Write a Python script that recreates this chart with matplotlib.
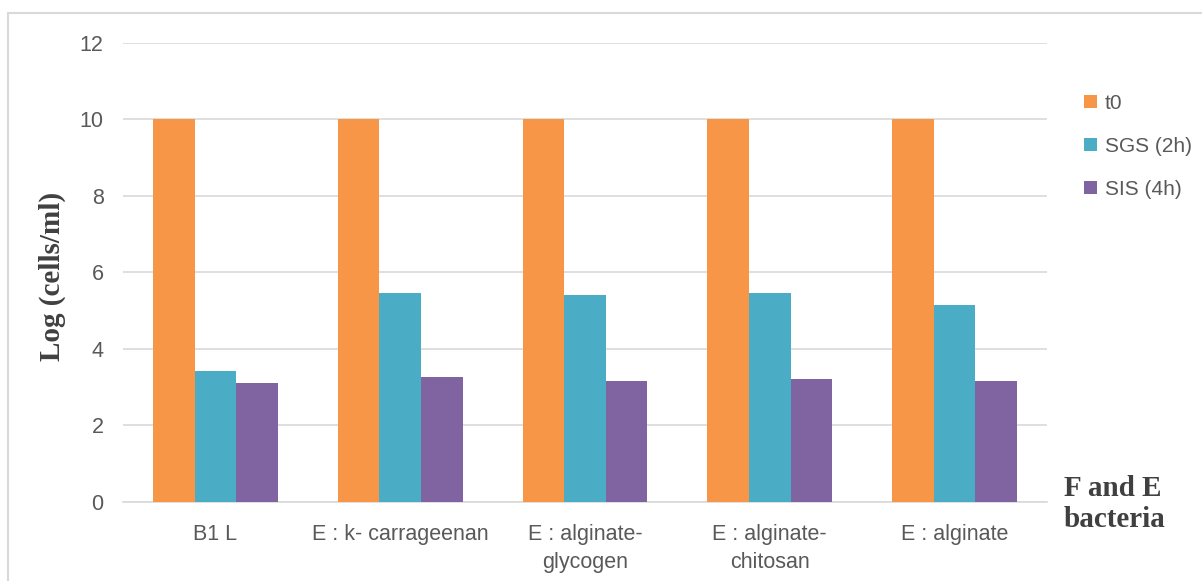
import numpy as np
import matplotlib.pyplot as plt
from matplotlib.patches import Rectangle

categories = ['B1 L', 'E : k- carrageenan', 'E : alginate-\nglycogen',
              'E : alginate-\nchitosan', 'E : alginate']
t0 = [10, 10, 10, 10, 10]
sgs = [3.42, 5.46, 5.41, 5.46, 5.15]
sis = [3.11, 3.27, 3.16, 3.22, 3.16]
series_names = ['t0', 'SGS (2h)', 'SIS (4h)']
colors = ['#F79646', '#4BACC6', '#8064A2']

fig = plt.figure(figsize=(12.02, 5.81), dpi=100)
ax = fig.add_axes([0.1023, 0.136, 0.7687, 0.79])

x = np.arange(len(categories))
w = 0.225
for i, (vals, name, c) in enumerate(zip([t0, sgs, sis], series_names, colors)):
    ax.bar(x + (i - 1) * w, vals, w, color=c, label=name, zorder=3)

ax.set_ylim(0, 12)
ax.set_xlim(-0.5, len(categories) - 0.5)
ax.set_yticks(range(0, 13, 2))
ax.yaxis.grid(True, color='#D9D9D9', lw=1.2, zorder=0)
for s in ['top', 'right', 'left']:
    ax.spines[s].set_visible(False)
ax.spines['bottom'].set_color('#D9D9D9')
ax.spines['bottom'].set_linewidth(1.2)
ax.tick_params(length=0, colors='#595959', labelsize=15.5)
ax.tick_params(axis='y', pad=14)
ax.tick_params(axis='x', pad=16)
ax.set_xticks(x)
ax.set_xticklabels(categories, fontfamily='Liberation Sans', linespacing=1.4)
for lbl in ax.get_yticklabels():
    lbl.set_fontfamily('Liberation Sans')

ax.set_ylabel('Log (cells/ml)', fontfamily='Liberation Serif', fontweight='bold',
              fontsize=21, color='#404040')
ax.yaxis.set_label_coords(-0.062, 0.492)
fig.text(0.885, 0.093, 'F and E\nbacteria', fontfamily='Liberation Serif',
         fontweight='bold', fontsize=21, color='#404040', linespacing=1.2,
         va='baseline')

leg = ax.legend(loc='upper left', bbox_to_anchor=(1.02, 0.93), frameon=False,
                prop={'family': 'Liberation Sans', 'size': 15}, labelcolor='#595959',
                handlelength=0.6, handleheight=0.6, handletextpad=0.4, labelspacing=1.15)

# outer chart border
fig.patches.append(Rectangle((0.007, -0.01), 1.0, 0.988, transform=fig.transFigure,
                             fill=False, edgecolor='#D9D9D9', lw=1.5))

fig.savefig('out.png', dpi=100)
